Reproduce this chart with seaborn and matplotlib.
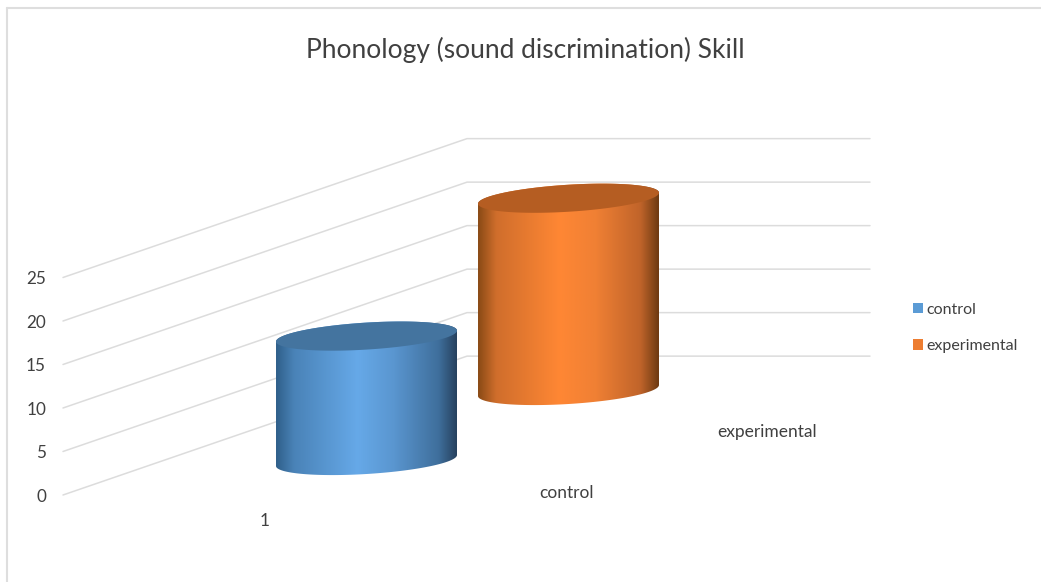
import numpy as np
import pandas as pd
import seaborn as sns
import matplotlib.pyplot as plt
from matplotlib.patches import Patch, Polygon

groups = ['control', 'experimental']
values = [14.3, 22.1]
y_ticks = [0, 5, 10, 15, 20, 25]
depth_labels = ['control', 'experimental']

blue_shades = ['#2f5f8a', '#4a83b8', '#66a9e8', '#5a96d0', '#3f6f9c', '#27425f']
orange_shades = ['#8a4a16', '#d06e2c', '#ff8734', '#f08034', '#c0642a', '#6e3a12']
shade_stops = [0, 0.1, 0.45, 0.65, 0.9, 1]
top_colors = ['#44749f', '#b55d22']
legend_colors = ['#5b9bd5', '#ed7d31']

PX = 8.7  # pixels per value unit
Y0 = 495  # pixel row of value 0 on the front edge
back_rise = 138 / PX


sns.set_style('white')
plt.rcParams['font.family'] = ['Lato', 'DejaVu Sans']

fig, ax = plt.subplots(figsize=(10.41, 5.82), dpi=100)
ax.set_position([0, 0, 1, 1])
ax.set_xlim(0, 1041)
ax.set_ylim((Y0 - 582) / PX, Y0 / PX)
ax.axis('off')

# walls
for v in y_ticks:
    wall = pd.DataFrame({'x': [63, 467, 870], 'y': [v, v + back_rise + 0.1, v + back_rise + 0.1]})
    sns.lineplot(data=wall, x='x', y='y', color='#dcdcdc', lw=1.1, ax=ax, legend=False, errorbar=None)
    ax.text(46, v - 0.2, str(v), ha='right', va='center', fontsize=12.3, color='#404040')

# frame of the chart area
ax.plot([7, 7], [(Y0 - 582) / PX, (Y0 - 8) / PX], color='#dedede', lw=1.5)
ax.plot([7, 1041], [(Y0 - 8) / PX, (Y0 - 8) / PX], color='#dedede', lw=1.5)


def cylinder(x_left, x_right, base, value, shades, top_color, z):
    # base is the value-axis height of the floor under the cylinder centre
    cx = (x_left + x_right) / 2
    a = (x_right - x_left) / 2
    t = np.linspace(0, 2 * np.pi, 200)
    ex = a * np.cos(t)
    ey = (5.5 * np.cos(t) + 13.5 * np.sin(t)) / PX

    lower = t[(t >= 0) & (t <= np.pi)]
    side_x = np.concatenate([cx + a * np.cos(lower), cx + a * np.cos(lower[::-1])])
    low_y = base + (5.5 * np.cos(lower) - 13.5 * np.sin(lower)) / PX
    up_y = base + value + (5.5 * np.cos(lower[::-1]) + 13.5 * np.sin(lower[::-1])) / PX
    side_y = np.concatenate([low_y, up_y])
    body = Polygon(np.column_stack([side_x, side_y]), closed=True, fc='none', ec='none', zorder=z)
    ax.add_patch(body)

    cmap = sns.blend_palette(shades, n_colors=256, as_cmap=True)
    pos = np.interp(np.linspace(0, 1, 400), shade_stops, np.linspace(0, 1, len(shades)))
    img = ax.imshow(pos[None, :], cmap=cmap, vmin=0, vmax=1, aspect='auto', zorder=z,
                    extent=[x_left, x_right, base - 3, base + value + 3])
    img.set_clip_path(body)

    ax.fill(cx + ex, base + value + ey, color=top_color, lw=0, zorder=z + 1)


cylinder(276, 457, (Y0 - 460.5) / PX, values[0], blue_shades, top_colors[0], 3)
cylinder(478, 659, (Y0 - 390.5) / PX, values[1], orange_shades, top_colors[1], 5)
ax.set_xlim(0, 1041)
ax.set_ylim((Y0 - 582) / PX, Y0 / PX)

# category and depth labels
ax.text(265, (Y0 - 520.5) / PX, '1', ha='center', va='center', fontsize=12.5, color='#404040')
ax.text(566, (Y0 - 493.5) / PX, depth_labels[0], ha='center', va='center', fontsize=12.5, color='#404040')
ax.text(767, (Y0 - 431.5) / PX, depth_labels[1], ha='center', va='center', fontsize=12.5, color='#404040')

ax.text(525, (Y0 - 50) / PX, 'Phonology (sound discrimination) Skill', ha='center', va='center',
        fontsize=19.03, color='#404040')

handles = [Patch(fc=c, ec='none', label=g) for c, g in zip(legend_colors, groups)]
ax.legend(handles=handles, loc='center left', bbox_to_anchor=(913 / 1041, 1 - 328 / 582), frameon=False,
          fontsize=11.5, labelcolor='#404040', handlelength=0.62, handleheight=0.62, handletextpad=0.2,
          labelspacing=1.4, borderpad=0, borderaxespad=0)

fig.savefig('out.png', dpi=100)
